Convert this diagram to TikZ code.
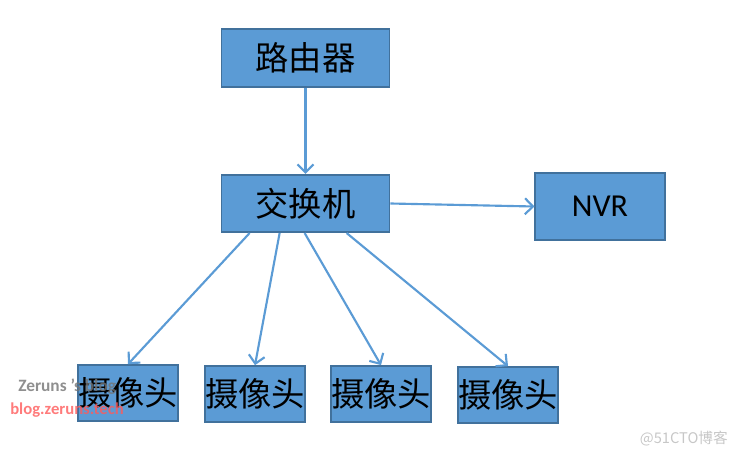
\documentclass[tikz,border=0pt]{standalone}
\usepackage{fontspec}
\setmainfont{Carlito}
\newfontfamily\cjk{Noto Sans CJK SC}
\usetikzlibrary{calc,arrows.meta}
\definecolor{boxfill}{HTML}{5B9BD5}
\definecolor{boxline}{HTML}{41719C}
\definecolor{mark}{HTML}{FF5A5A}
\tikzstyle{box}=[draw=boxline, fill=boxfill, line width=1.3pt, inner sep=0, font=\fontsize{24}{28}\selectfont]
\tikzstyle{big}=[box, minimum width=126pt, minimum height=43pt, font=\cjk\fontsize{25}{28}\selectfont]
\tikzstyle{cam}=[box, minimum width=75pt, minimum height=42pt, font=\cjk\fontsize{25}{28}\selectfont]
\tikzstyle{link}=[draw=boxfill, line width=1.6pt, -{Straight Barb[length=6pt,width=12pt]}]

\begin{document}
\begin{tikzpicture}[x=0.75pt, y=-0.75pt]
\useasboundingbox (0,0) rectangle (736,460);
\node at (305.5,58)[big](router){路由器};
\node at (305.5,203.5)[big](switch){交换机};
\node at (600,206.5)[box, minimum width=97pt, minimum height=50pt](nvr){NVR};
\node at (128,393)[cam](cam1){摄像头};
\node at (255,394)[cam](cam2){摄像头};
\node at (381,394)[cam](cam3){摄像头};
\node at (508,395)[cam](cam4){摄像头};
\draw[link] (router)--(switch);
\draw[link] (switch.east)--(nvr.west);
\draw[link] ($(switch.south west)+(29,0)$)--(cam1.north);
\draw[link] ($(switch.south west)+(59,0)$)--(cam2.north);
\draw[link] ($(switch.south west)+(84,0)$)--(cam3.north);
\draw[link] ($(switch.south west)+(126,0)$)--(cam4.north);
% watermarks
\node at (18,387)[anchor=west, inner sep=0, text=black!55, opacity=0.8, font=\bfseries\fontsize{13}{14}\selectfont](wm1){Zeruns 's blog};
\node at (10,410)[anchor=west, inner sep=0, text=mark, opacity=0.8, font=\bfseries\fontsize{12.5}{14}\selectfont](wm2){blog.zeruns.tech};
\node at (728,439)[anchor=east, inner sep=0, text=black!22, font=\cjk\fontsize{11}{12}\selectfont](wm3){@51CTO博客};
\end{tikzpicture}
\end{document}
